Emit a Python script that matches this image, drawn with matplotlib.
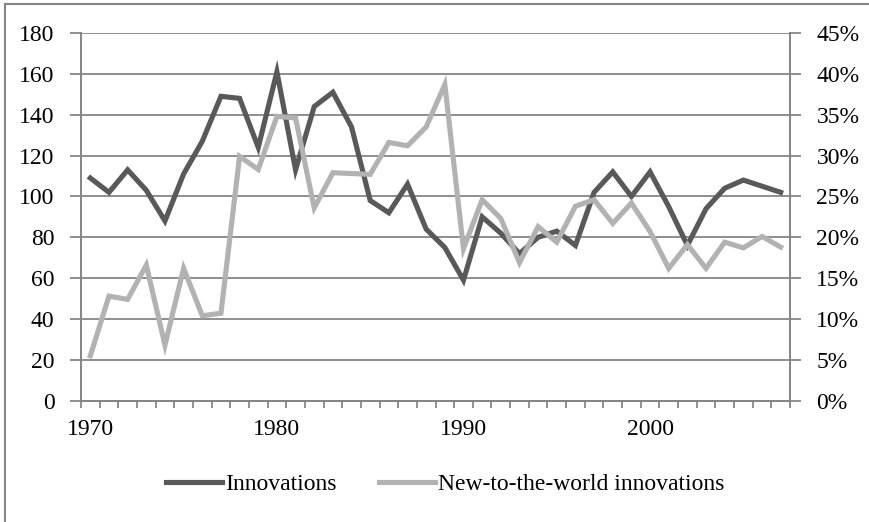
import matplotlib
matplotlib.use("Agg")
import matplotlib.pyplot as plt
from matplotlib.lines import Line2D
from matplotlib.ticker import FixedLocator, PercentFormatter

years = list(range(1970, 2008))

innovations = [109, 102, 113, 103, 88, 111, 127, 149, 148, 124,
               161, 113, 144, 151, 134, 98, 92, 106, 84, 75,
               59, 90, 82, 72, 80, 83, 76, 102, 112, 100,
               112, 95, 76, 94, 104, 108, 105, 102]

new_to_world = [5.5, 12.8, 12.4, 16.6, 6.8, 16.2, 10.4, 10.7, 29.9, 28.3,
                34.8, 34.6, 23.6, 27.9, 27.8, 27.7, 31.6, 31.2, 33.5, 38.7,
                18.6, 24.6, 22.3, 16.9, 21.3, 19.4, 23.8, 24.6, 21.7, 24.2,
                20.7, 16.2, 19.1, 16.2, 19.4, 18.7, 20.1, 18.8]

labels = ["Innovations", "New-to-the-world innovations"]
dark = "#595959"
light = "#b2b2b2"
grid = "#868686"

plt.rcParams["font.family"] = ["Liberation Serif", "DejaVu Serif"]
plt.rcParams["font.size"] = 17

fig = plt.figure(figsize=(8.69, 5.22), dpi=100)
W, H = 869, 522
ax = fig.add_axes([81 / W, 1 - 400.7 / H, (790 - 81) / W, (400.7 - 33) / H])
ax2 = ax.twinx()

ax.set_zorder(1)
ax2.set_zorder(2)
ax.patch.set_visible(False)

ax.set_xlim(1969.5, 2007.5)
ax.set_ylim(0, 180)
ax2.set_ylim(0, 45)
ax.set_yticks(range(0, 181, 20))
ax2.set_yticks(range(0, 46, 5))
ax2.yaxis.set_major_formatter(PercentFormatter(decimals=0))

ax.set_xticks([1970, 1980, 1990, 2000])
ax.xaxis.set_minor_locator(FixedLocator([y + 0.5 for y in range(1969, 2008)]))
ax.tick_params(axis="x", which="major", length=0, pad=13)
ax.tick_params(axis="x", which="minor", length=5, width=1.3, color=grid)
ax.tick_params(axis="y", length=8, width=1.3, color=grid, pad=11)
ax2.tick_params(axis="y", length=8, width=1.3, color=grid, pad=11)

ax.grid(axis="y", color=grid, linewidth=1.3)
ax.set_axisbelow(True)

for a in (ax, ax2):
    a.spines["top"].set_visible(False)
    for s in ("left", "right", "bottom"):
        a.spines[s].set_color(grid)
        a.spines[s].set_linewidth(1.3)

ax2.plot(years, innovations, color=dark, linewidth=3.7, solid_joinstyle="miter",
         transform=ax.transData)
ax2.plot(years, new_to_world, color=light, linewidth=3.7, solid_joinstyle="miter")

handles = [Line2D([], [], color=dark, linewidth=3.7),
           Line2D([], [], color=light, linewidth=3.7)]
fig.legend(handles, labels, loc="center", bbox_to_anchor=(445 / W, 1 - 484 / H),
           ncols=2, frameon=False, handlelength=2.4, handletextpad=0.1,
           columnspacing=1.8)

# chart area border (left and top edges)
fig.add_artist(Line2D([5 / W, 5 / W], [0, 1 - 4 / H], color=grid, linewidth=1.5))
fig.add_artist(Line2D([5 / W, 1], [1 - 4 / H, 1 - 4 / H], color=grid, linewidth=1.5))

fig.savefig("out.png", dpi=100)
